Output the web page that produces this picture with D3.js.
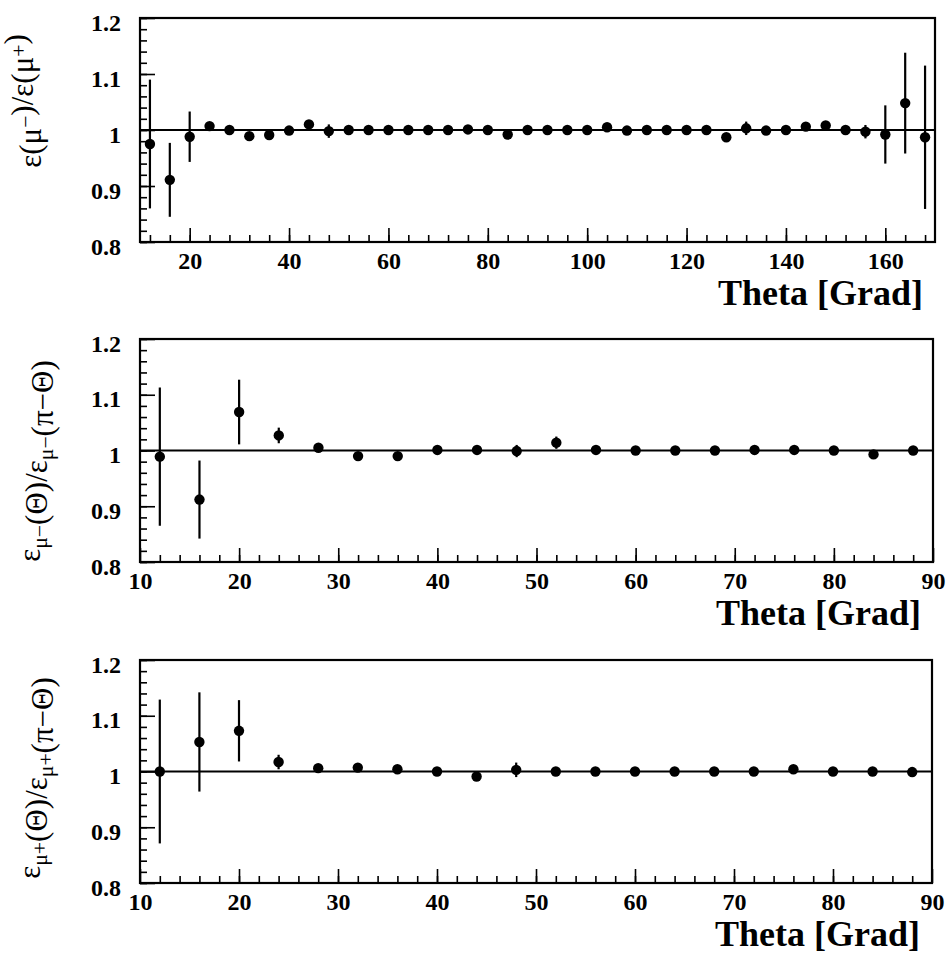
<!DOCTYPE html>
<html>
<head>
<meta charset="utf-8">
<script src="https://cdn.jsdelivr.net/npm/d3@7"></script>
<style>
  body { margin: 0; background: #fff; }
  svg { display: block; }
</style>
</head>
<body>
<svg width="947" height="957"></svg>
<script>
// top panel: eps(mu-)/eps(mu+) against theta, 12..168 deg
const thetaTop = [12,16,20,24,28,32,36,40,44,48,52,56,60,64,68,72,76,80,84,88,
                  92,96,100,104,108,112,116,120,124,128,132,136,140,144,148,152,156,160,164,168];
const ratioTop = [0.975,0.911,0.988,1.007,1.000,0.989,0.991,0.999,1.010,0.998,1.000,1.000,1.000,1.000,1.000,1.000,1.001,1.000,0.992,1.000,
                  1.000,1.000,1.000,1.005,0.999,1.000,1.000,1.000,1.000,0.987,1.003,0.999,1.000,1.006,1.008,1.000,0.997,0.992,1.048,0.987];
const errTop   = [0.115,0.066,0.045,0.006,0.004,0.004,0.004,0.004,0.004,0.012,0.004,0.004,0.004,0.004,0.004,0.004,0.004,0.004,0.004,0.004,
                  0.004,0.004,0.004,0.004,0.004,0.004,0.004,0.004,0.004,0.004,0.012,0.004,0.004,0.004,0.004,0.004,0.012,0.052,0.090,0.128];

// middle and bottom panels: forward/backward ratio, 12..88 deg
const thetaHalf = [12,16,20,24,28,32,36,40,44,48,52,56,60,64,68,72,76,80,84,88];
const ratioMinus = [0.989,0.912,1.069,1.027,1.005,0.990,0.990,1.001,1.001,0.999,1.014,1.001,1.000,1.000,1.000,1.001,1.001,1.000,0.993,1.000];
const errMinus   = [0.124,0.070,0.058,0.014,0.004,0.004,0.004,0.004,0.004,0.011,0.011,0.004,0.004,0.004,0.004,0.004,0.004,0.004,0.004,0.004];
const ratioPlus  = [1.000,1.053,1.073,1.017,1.006,1.007,1.004,1.000,0.991,1.003,1.000,1.000,1.000,1.000,1.000,1.000,1.004,1.000,1.000,0.999];
const errPlus    = [0.129,0.089,0.055,0.013,0.004,0.004,0.004,0.004,0.004,0.013,0.004,0.004,0.004,0.004,0.004,0.004,0.004,0.004,0.004,0.004];

// ticks
const yMajor = [0.8,0.9,1.0,1.1,1.2];
const yMinor = d3.range(0.8, 1.2001, 0.02);
const xMajorTop = [20,40,60,80,100,120,140,160];
const xMinorTop = d3.range(12, 169, 4);
const xMajorHalf = [10,20,30,40,50,60,70,80,90];
const xMinorHalf = d3.range(12, 89, 2);

const svg = d3.select("svg");
const serif = '"Liberation Serif", "Times New Roman", serif';

function styleAxis(sel) {
  sel.attr("font-family", serif).attr("font-size", 24).attr("font-weight", "bold");
  sel.selectAll(".domain").remove();
  sel.selectAll(".tick line").attr("stroke", "#000").attr("stroke-width", 1.6);
  sel.selectAll(".tick text").attr("fill", "#000");
}

function panel(cfg) {
  const x = d3.scaleLinear().domain(cfg.xDomain).range([cfg.left, cfg.right]);
  const y = d3.scaleLinear().domain([0.8, 1.2]).range([cfg.bottom, cfg.top]);
  const g = svg.append("g");

  // x axis (ticks point inward)
  const xa = g.append("g").attr("transform", `translate(0,${cfg.bottom})`);
  xa.append("g").call(d3.axisBottom(x).tickValues(cfg.xMinor).tickSize(-7).tickSizeOuter(0).tickFormat("")).call(styleAxis);
  xa.append("g").call(d3.axisBottom(x).tickValues(cfg.xMajor).tickSize(-14).tickSizeOuter(0).tickPadding(10).tickFormat(d3.format("d"))).call(styleAxis);

  // y axis
  const ya = g.append("g").attr("transform", `translate(${cfg.left},0)`);
  ya.append("g").call(d3.axisLeft(y).tickValues(yMinor).tickSize(-7).tickSizeOuter(0).tickFormat("")).call(styleAxis);
  ya.append("g").call(d3.axisLeft(y).tickValues(yMajor).tickSize(-15).tickSizeOuter(0).tickPadding(19).tickFormat(d3.format("~g"))).call(styleAxis);
  ya.selectAll(".tick text").attr("dy", "0.5em");

  // frame
  g.append("rect")
    .attr("x", cfg.left).attr("y", cfg.top)
    .attr("width", cfg.right - cfg.left).attr("height", cfg.bottom - cfg.top)
    .attr("fill", "none").attr("stroke", "#000").attr("stroke-width", 2.2);

  // reference line at 1
  g.append("line")
    .attr("x1", cfg.left).attr("x2", cfg.right)
    .attr("y1", y(1)).attr("y2", y(1))
    .attr("stroke", "#000").attr("stroke-width", 2);

  const pts = cfg.theta.map((t, i) => ({ t, v: cfg.ratio[i], e: cfg.err[i] }));

  g.selectAll(".err").data(pts).enter().append("line")
    .attr("class", "err")
    .attr("x1", d => x(d.t)).attr("x2", d => x(d.t))
    .attr("y1", d => y(d.v + d.e)).attr("y2", d => y(d.v - d.e))
    .attr("stroke", "#000").attr("stroke-width", 2.2);

  g.selectAll(".pt").data(pts).enter().append("circle")
    .attr("class", "pt")
    .attr("cx", d => x(d.t)).attr("cy", d => y(d.v))
    .attr("r", 5.2).attr("fill", "#000");

  // x title
  g.append("text")
    .attr("x", cfg.right - 12).attr("y", cfg.bottom + 63)
    .attr("text-anchor", "end")
    .attr("font-family", serif).attr("font-weight", "bold").attr("font-size", 36)
    .text("Theta [Grad]");

  // y title, rotated
  const yt = g.append("text")
    .attr("transform", `translate(${cfg.titleX},${cfg.titleY}) rotate(-90)`)
    .attr("text-anchor", "middle")
    .attr("font-family", serif).attr("font-size", cfg.titleSize);
  cfg.title.forEach(p => {
    if (p.sup) {
      yt.append("tspan").attr("dy", "-0.35em").attr("font-size", "0.7em").text(p.t);
      yt.append("tspan").attr("dy", "0.245em").text("");
    } else if (p.sub) {
      yt.append("tspan").attr("dy", "0.3em").attr("font-size", "0.7em").text(p.t);
      yt.append("tspan").attr("dy", "-0.21em").text("");
    } else {
      yt.append("tspan").text(p.t);
    }
  });
}

panel({
  top: 18, bottom: 242, left: 140, right: 935,
  xDomain: [10, 170], xMajor: xMajorTop, xMinor: xMinorTop,
  theta: thetaTop, ratio: ratioTop, err: errTop,
  titleX: 41, titleY: 101, titleSize: 31,
  title: [{t: "ε(μ"}, {t: "−", sup: true}, {t: ")/ε(μ"}, {t: "+", sup: true}, {t: ")"}]
});

panel({
  top: 339, bottom: 562, left: 140, right: 933,
  xDomain: [10, 90], xMajor: xMajorHalf, xMinor: xMinorHalf,
  theta: thetaHalf, ratio: ratioMinus, err: errMinus,
  titleX: 40, titleY: 461, titleSize: 31,
  title: [{t: "ε"}, {t: "μ−", sub: true}, {t: "(Θ)/ε"}, {t: "μ−", sub: true}, {t: "(π−Θ)"}]
});

panel({
  top: 660, bottom: 883, left: 140, right: 932,
  xDomain: [10, 90], xMajor: xMajorHalf, xMinor: xMinorHalf,
  theta: thetaHalf, ratio: ratioPlus, err: errPlus,
  titleX: 40, titleY: 778, titleSize: 31,
  title: [{t: "ε"}, {t: "μ+", sub: true}, {t: "(Θ)/ε"}, {t: "μ+", sub: true}, {t: "(π−Θ)"}]
});
</script>
</body>
</html>
